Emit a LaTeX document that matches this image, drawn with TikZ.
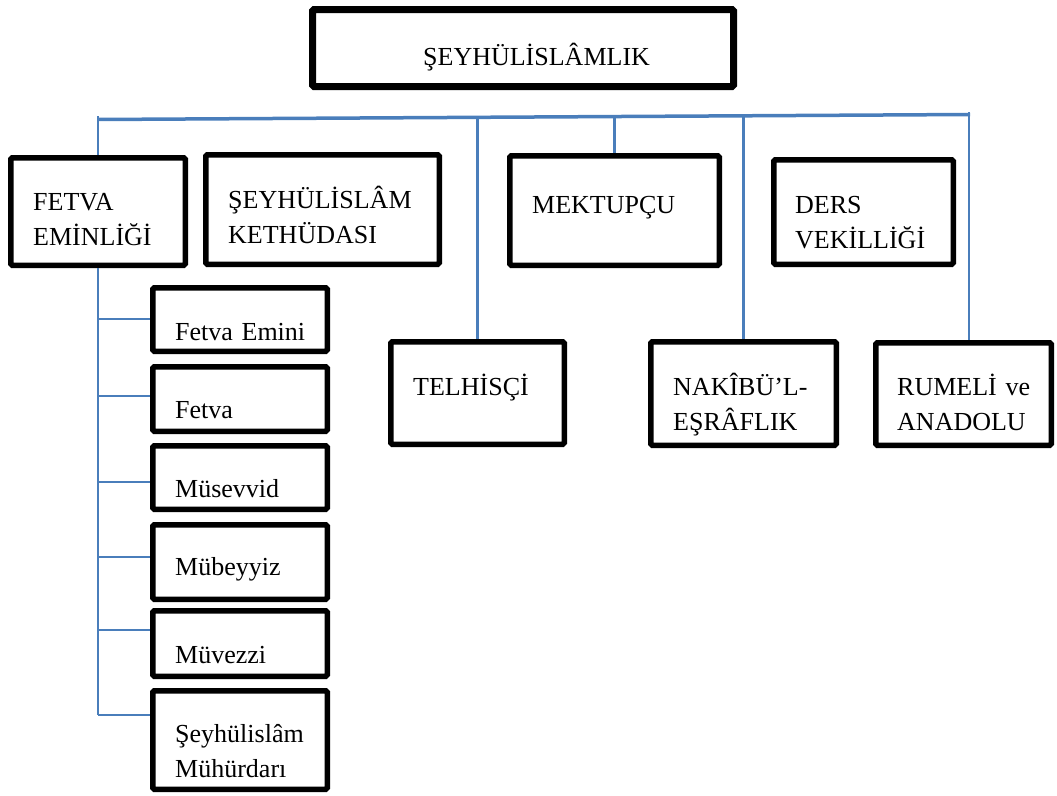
\documentclass[tikz,border=0pt]{standalone}
\usepackage{fontspec}
\setmainfont{Liberation Serif}
\definecolor{linkblue}{HTML}{4A7EBB}
\begin{document}
\begin{tikzpicture}[x=1pt,y=-1pt,
  box/.style={draw=black,fill=white,line width=5.5pt,rounded corners=1.5pt,inner sep=0pt,rectangle},
  topbox/.style={box,line width=7pt},
  lbl/.style={anchor=base west,inner sep=0pt,text width=240pt,align=left,font=\fontsize{26}{35}\selectfont},
  bus/.style={draw=linkblue,line width=3.5pt},
  link/.style={draw=linkblue,line width=2.2pt}]
\useasboundingbox (0,0) rectangle (1057,795);

% bus coordinates
\coordinate (busL) at (98,119.5);
\coordinate (busR) at (970,114.5);
\coordinate (bTel) at (477.5,117.3);
\coordinate (bMek) at (614.5,116.5);
\coordinate (bNak) at (743.5,115.8);
\coordinate (bRum) at (969,112);
\coordinate (lTop) at (98,116);
% branch points on left vertical
\coordinate (k1) at (98,319);
\coordinate (k2) at (98,396);
\coordinate (k3) at (98,482);
\coordinate (k4) at (98,557);
\coordinate (k5) at (98,630);
\coordinate (k6) at (98,715);

% main boxes
\node[topbox,minimum width=421,minimum height=77] (root) at (523,48) {};
\node[lbl] (rootT) at (423,65) {ŞEYHÜLİSLÂMLIK};

\node[box,minimum width=174.5,minimum height=107.5] (fetva) at (98,211.5) {};
\node[lbl] (fetvaT) at (33,210) {FETVA\\EMİNLİĞİ};

\node[box,minimum width=233.5,minimum height=109.5] (keth) at (322.5,209.5) {};
\node[lbl] (kethT) at (228,208) {ŞEYHÜLİSLÂM\\KETHÜDASI};

\node[box,minimum width=209.5,minimum height=109.5] (mek) at (614.5,210.5) {};
\node[lbl] (mekT) at (532,213) {MEKTUPÇU};

\node[box,minimum width=179.5,minimum height=104.5] (ders) at (863.5,212) {};
\node[lbl] (dersT) at (795,213) {DERS\\VEKİLLİĞİ};

\node[box,minimum width=173.5,minimum height=102.5] (tel) at (477.5,393) {};
\node[lbl] (telT) at (413,395) {TELHİSÇİ};

\node[box,minimum width=185.5,minimum height=103.5] (nak) at (743.5,393.5) {};
\node[lbl] (nakT) at (673,395) {NAKÎBÜ’L-\\EŞRÂFLIK};

\node[box,minimum width=175.5,minimum height=102.5] (rum) at (963.5,394) {};
\node[lbl] (rumT) at (897,395) {RUMELİ ve\\ANADOLU};

% sub boxes
\node[box,minimum width=174.5,minimum height=63.5] (s1) at (240,319.5) {};
\node[lbl] (s1T) at (175,340) {Fetva Emini};
\node[box,minimum width=174.5,minimum height=64.5] (s2) at (240,399) {};
\node[lbl] (s2T) at (175,418) {Fetva};
\node[box,minimum width=174.5,minimum height=63.5] (s3) at (240,477.5) {};
\node[lbl] (s3T) at (175,497) {Müsevvid};
\node[box,minimum width=174.5,minimum height=74.5] (s4) at (240,562) {};
\node[lbl] (s4T) at (175,575) {Mübeyyiz};
\node[box,minimum width=174.5,minimum height=65.5] (s5) at (240,643.5) {};
\node[lbl] (s5T) at (175,663) {Müvezzi};
\node[box,minimum width=174.5,minimum height=98.5] (s6) at (240,740) {};
\node[lbl] (s6T) at (175,742) {Şeyhülislâm\\Mühürdarı};

% connectors
\draw[bus] (busL) -- (busR);
\draw[link] (lTop) -- (lTop |- fetva.north);
\draw[link] (lTop |- fetva.south) -- (k6);
\draw[link] (bTel) -- (bTel |- tel.north);
\draw[link] (bMek) -- (bMek |- mek.north);
\draw[link] (bNak) -- (bNak |- nak.north);
\draw[link] (bRum) -- (bRum |- rum.north);
\draw[link] (k1) -- (k1 -| s1.west);
\draw[link] (k2) -- (k2 -| s2.west);
\draw[link] (k3) -- (k3 -| s3.west);
\draw[link] (k4) -- (k4 -| s4.west);
\draw[link] (k5) -- (k5 -| s5.west);
\draw[link] (k6) -- (k6 -| s6.west);
\end{tikzpicture}
\end{document}
